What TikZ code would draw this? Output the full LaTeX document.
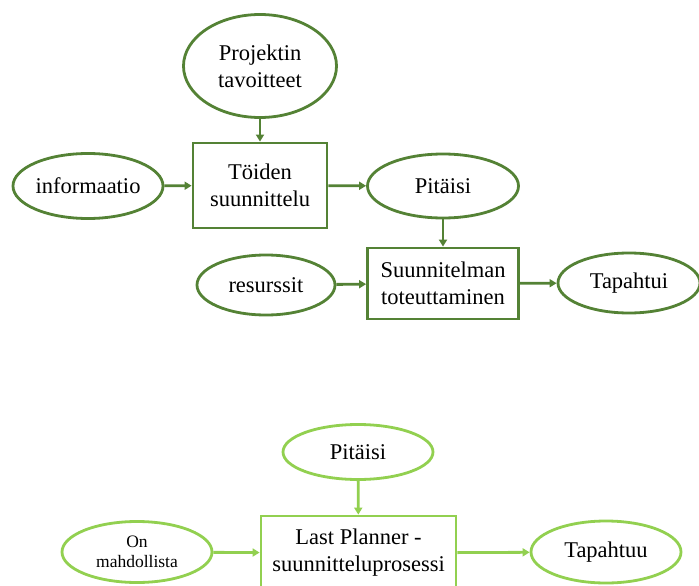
\documentclass[tikz,border=0pt]{standalone}
\usepackage{fontspec}
\setmainfont{Liberation Serif}
\usepackage{tikz}
\usetikzlibrary{shapes.geometric,arrows.meta}
\definecolor{tumma}{HTML}{548235}
\definecolor{vaalea}{HTML}{92D050}
\tikzstyle{pallo} = [ellipse, draw, line width=2.8pt, inner sep=0pt, align=center, font=\fontsize{22.5}{27}\selectfont]
\tikzstyle{laatikko} = [rectangle, draw, line width=2.8pt, inner sep=0pt, align=center, font=\fontsize{22.5}{27}\selectfont]
\tikzstyle{nuoli} = [line width=2.8pt, -{Triangle[length=7pt,width=8pt]}]

\begin{document}
\begin{tikzpicture}[x=1pt, y=-1pt]
  \useasboundingbox (0,0) rectangle (699,586);
  % ylempi kaavio
  \node (tav) at (260,66) [pallo, draw=tumma, minimum width=153pt, minimum height=103pt] {Projektin\\tavoitteet};
  \node (toi) at (260,185.5) [laatikko, draw=tumma, minimum width=134pt, minimum height=85pt] {Töiden\\suunnittelu};
  \node (info) at (88,186) [pallo, draw=tumma, minimum width=150pt, minimum height=65pt] {informaatio};
  \node (pit) at (443,186) [pallo, draw=tumma, minimum width=151pt, minimum height=64pt] {Pitäisi};
  \node (tot) at (443,283.5) [laatikko, draw=tumma, minimum width=151pt, minimum height=71pt] {Suunnitelman\\toteuttaminen};
  \node (res) at (266,285) [pallo, draw=tumma, minimum width=138pt, minimum height=60pt] {resurssit};
  \node (tap) at (629,283) [pallo, draw=tumma, minimum width=142pt, minimum height=60pt] {Tapahtui};
  \draw [nuoli, tumma] (tav) to (toi);
  \draw [nuoli, tumma] (info) to (toi);
  \draw [nuoli, tumma] (toi) to (pit);
  \draw [nuoli, tumma] (pit) to (tot);
  \draw [nuoli, tumma] (res) to (tot);
  \draw [nuoli, tumma] (tot) to (tap);
  % alempi kaavio
  \node (pit2) at (358,452) [pallo, draw=vaalea, minimum width=150pt, minimum height=55pt] {Pitäisi};
  \node (lp) at (358.5,553) [laatikko, draw=vaalea, minimum width=195pt, minimum height=74pt] {Last Planner -\\suunnitteluprosessi};
  \node (mahd) at (137,552) [pallo, draw=vaalea, minimum width=150pt, minimum height=61pt, font=\fontsize{17.5}{20.5}\selectfont] {On\\mahdollista};
  \node (tap2) at (606,552) [pallo, draw=vaalea, minimum width=150pt, minimum height=62pt] {Tapahtuu};
  \draw [nuoli, vaalea] (pit2) to (lp);
  \draw [nuoli, vaalea] (mahd) to (lp);
  \draw [nuoli, vaalea] (lp) to (tap2);
\end{tikzpicture}
\end{document}
